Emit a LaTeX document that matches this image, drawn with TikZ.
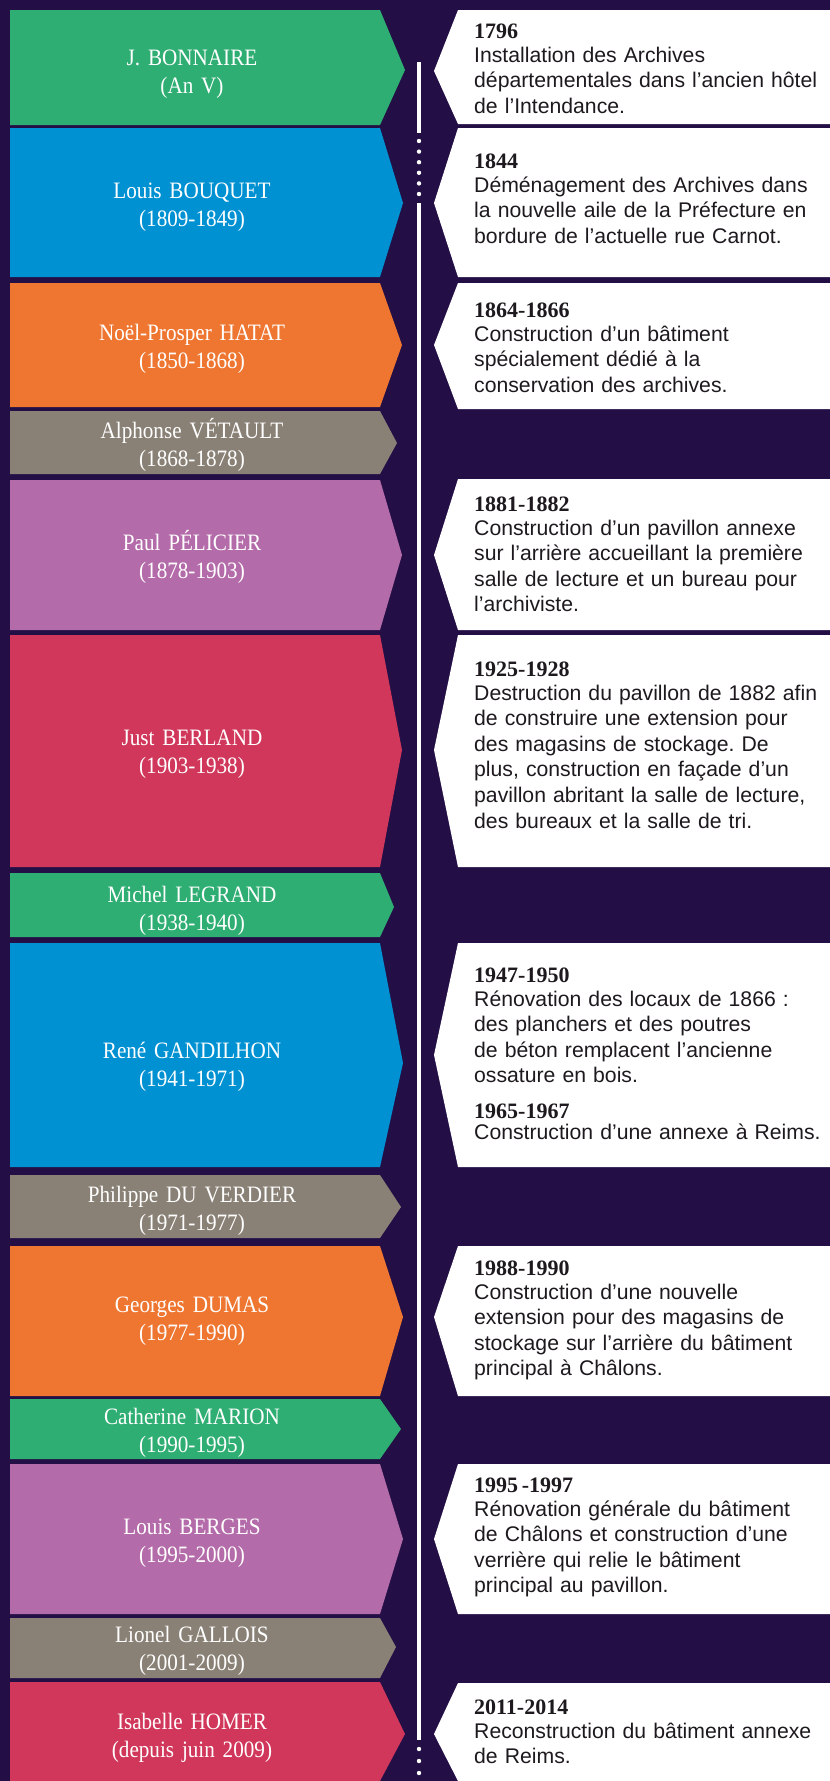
\documentclass[tikz,border=0pt]{standalone}
\usepackage{fontspec}
\setmainfont{Liberation Sans}
\newfontfamily\namefont{Liberation Serif}[FakeStretch=0.9, WordSpace=0.6]
\newfontfamily\yearfont{Liberation Serif}
\frenchspacing

\definecolor{fond}{RGB}{35,15,70}
\definecolor{vert}{RGB}{46,174,114}
\definecolor{bleu}{RGB}{0,145,210}
\definecolor{orange}{RGB}{238,118,48}
\definecolor{gris}{RGB}{138,129,118}
\definecolor{violet}{RGB}{180,107,169}
\definecolor{rouge}{RGB}{208,55,90}
\definecolor{texte}{RGB}{30,25,30}

\newcommand{\annee}[1]{{\yearfont\bfseries\fontsize{22}{25.6}\selectfont #1}}

\begin{document}
\begin{tikzpicture}[x=1pt, y=-1pt,
  nom/.style={text=white, text width=370pt, align=center, inner sep=0pt, anchor=base,
    font=\namefont\fontsize{23.5}{28}\selectfont},
  evenement/.style={text=texte, text width=356pt, align=left, inner sep=0pt, anchor=base west,
    font=\fontsize{21.2}{25.6}\selectfont}]

\useasboundingbox (0,0) rectangle (830,1781);

\fill[fond] (0,0) rectangle (830,1781);

% directeurs
\foreach \haut/\bas/\pointe/\milieu/\coul/\nomdir/\dates [count=\i] in {
  10/125/405/70/vert/J. BONNAIRE/(An V),
  128/277/403/203/bleu/Louis BOUQUET/(1809-1849),
  283/407/402/345/orange/Noël-Prosper HATAT/(1850-1868),
  411/474/397/443/gris/Alphonse VÉTAULT/(1868-1878),
  480/630/402/555/violet/Paul PÉLICIER/(1878-1903),
  635/867/402/750/rouge/Just BERLAND/(1903-1938),
  873/937/394/907/vert/Michel LEGRAND/(1938-1940),
  943/1167/403/1063/bleu/René GANDILHON/(1941-1971),
  1175/1238/401/1207/gris/Philippe DU VERDIER/(1971-1977),
  1246/1396/403/1317/orange/Georges DUMAS/(1977-1990),
  1399/1459/401/1429/vert/Catherine MARION/(1990-1995),
  1464/1614/403/1539/violet/Louis BERGES/(1995-2000),
  1618/1678/396/1647/gris/Lionel GALLOIS/(2001-2009),
  1682/1781/405/1734/rouge/Isabelle HOMER/(depuis juin 2009)}
{
  \fill[\coul] (10,\haut) -- (380,\haut) -- (\pointe,\milieu) -- (380,\bas) -- (10,\bas) -- cycle;
  \node[nom] (dir-\i) at (192,\milieu-5) {\nomdir\\\dates};
}

% cadres blancs
\foreach \haut/\bas/\milieu in {10/124/71, 128/277/203, 283/409/345, 479/630/555,
  635/867/750, 943/1167/1055, 1246/1396/1317, 1464/1614/1539, 1683/1781/1734}
{
  \fill[white] (458,\haut) -- (830,\haut) -- (830,\bas) -- (458,\bas) -- (434,\milieu) -- cycle;
}

% ligne du temps
\draw[white, line width=3.5pt] (419,62) -- (419,133);
\foreach \y in {141,151.6,...,195}
  \fill[white] (419,\y) circle (2.2pt);
\draw[white, line width=3.5pt] (419,203) -- (419,1740);
\foreach \y in {1749,1761,1773}
  \fill[white] (419,\y) circle (2.2pt);

\node[evenement] (evt-1) at (474,38) {\annee{1796}\\[-1.5pt]
  Installation des Archives\\départementales dans l’ancien hôtel\\de l’Intendance.};

\node[evenement] (evt-2) at (474,168) {\annee{1844}\\[-1.5pt]
  Déménagement des Archives dans\\la nouvelle aile de la Préfecture en\\bordure de l’actuelle rue Carnot.};

\node[evenement] (evt-3) at (474,317) {\annee{1864-1866}\\[-1.5pt]
  Construction d’un bâtiment\\spécialement dédié à la\\conservation des archives.};

\node[evenement] (evt-4) at (474,511) {\annee{1881-1882}\\[-1.5pt]
  Construction d’un pavillon annexe\\sur l’arrière accueillant la première\\salle de lecture et un bureau pour\\l’archiviste.};

\node[evenement] (evt-5) at (474,676) {\annee{1925-1928}\\[-1.5pt]
  Destruction du pavillon de 1882 afin\\de construire une extension pour\\des magasins de stockage. De\\plus, construction en façade d’un\\pavillon abritant la salle de lecture,\\des bureaux et la salle de tri.};

\node[evenement] (evt-6) at (474,982) {\annee{1947-1950}\\[-1.5pt]
  Rénovation des locaux de 1866 :\\des planchers et des poutres\\de béton remplacent l’ancienne\\ossature en bois.\\[10.4pt]
  \annee{1965-1967}\\[-4.6pt]Construction d’une annexe à Reims.};

\node[evenement] (evt-7) at (474,1275) {\annee{1988-1990}\\[-1.5pt]
  Construction d’une nouvelle\\extension pour des magasins de\\stockage sur l’arrière du bâtiment\\principal à Châlons.};

\node[evenement] (evt-8) at (474,1492) {\annee{1995\,-1997}\\[-1.5pt]
  Rénovation générale du bâtiment\\de Châlons et construction d’une\\verrière qui relie le bâtiment\\principal au pavillon.};

\node[evenement] (evt-9) at (474,1714) {\annee{2011-2014}\\[-1.5pt]
  Reconstruction du bâtiment annexe\\de Reims.};

\end{tikzpicture}
\end{document}
